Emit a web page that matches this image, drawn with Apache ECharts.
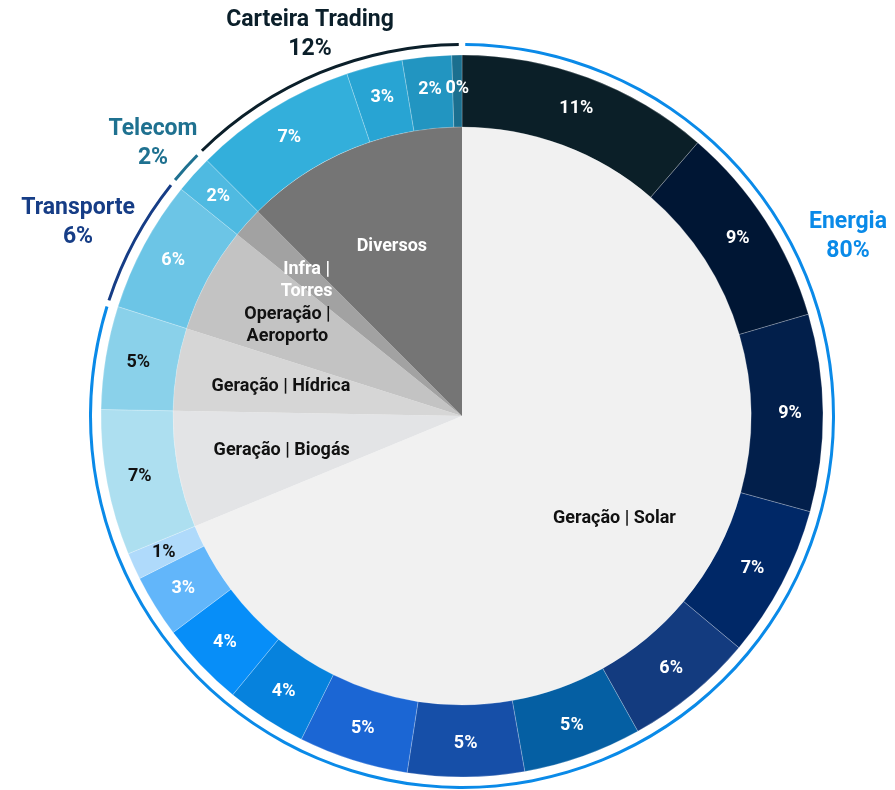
<!DOCTYPE html>
<html>
<head>
<meta charset="utf-8">
<script src="https://cdn.jsdelivr.net/npm/echarts@6/dist/echarts.min.js"></script>
<style>
  html, body { margin: 0; background: #fff; }
  #main { width: 895px; height: 790px; }
</style>
</head>
<body>
<div id="main"></div>
<script>
// grupos (arco de fora)
const groups = ['Energia', 'Transporte', 'Telecom', 'Carteira Trading'];
const groupShares = [80, 6, 2, 12];
// quantas fatias do anel pertencem a cada grupo
const groupSliceCount = [14, 1, 1, 4];

// setores (pizza do meio)
const sectors = ['Geração | Solar', 'Geração | Biogás', 'Geração | Hídrica', 'Operação | Aeroporto', 'Infra | Torres', 'Diversos'];
const sectorValues = [68.6, 6.5, 4.6, 5.9, 1.7, 12.45];

// ativos (anel), sentido horario a partir do topo
const assetValues = [11.3, 9.1, 8.8, 6.8, 5.8, 5.3, 5.2, 4.9, 3.6, 3.8, 2.8, 1.2, 6.5, 4.6, 5.9, 1.7, 7.3, 2.5, 2.2, 0.45];

// ---- estilo ----
const CX = 462, CY = 416;
const FONT = 'Roboto';
const groupColors = ['#0a8ae8', '#163d86', '#1f7190', '#0b1f2a'];
const sectorColors = ['#f1f1f1', '#e3e4e6', '#d6d6d6', '#c3c3c3', '#a2a2a2', '#757575'];
const sectorLabelColors = ['#111', '#111', '#111', '#111', '#fff', '#fff'];
const sectorLabelOffset = { 3: [-13, -4], 4: [-19, -13] };
const assetColors = ['#0b1f28', '#001634', '#021f4b', '#002867', '#133b7f', '#055fa3', '#164fa8', '#1b66d4',
  '#0682dd', '#078ef8', '#62b6fa', '#afdafb', '#addff0', '#8ad1ea', '#6cc5e6', '#4fbae1', '#33afdb', '#28a4d3', '#2295c1', '#1b6f8f'];
const darkLabel = [11, 12, 13];
// posicao dos textos dos grupos
const groupLabelAt = [[848, 237], [78, 223], [153, 144], [310, 35]];

// soma das fatias por grupo -> arco
const groupValues = [];
let k = 0;
groupSliceCount.forEach(n => {
  let s = 0;
  for (let i = 0; i < n; i++) s += assetValues[k++];
  groupValues.push(s);
});

const chart = echarts.init(document.getElementById('main'));

const option = {
  animation: false,
  series: [
    {
      type: 'pie', silent: true,
      center: [CX, CY], radius: [0, 289],
      label: { show: false }, labelLine: { show: false },
      data: sectors.map((name, i) => ({ name, value: sectorValues[i], itemStyle: { color: sectorColors[i] } }))
    },
    {
      // so os textos dos setores
      type: 'pie', silent: true,
      center: [CX, CY], radius: [72, 289],
      avoidLabelOverlap: false,
      labelLayout: { hideOverlap: false },
      itemStyle: { color: 'rgba(0,0,0,0)' },
      labelLine: { show: false },
      data: sectors.map((name, i) => ({
        name, value: sectorValues[i],
        label: {
          show: true, position: 'inside',
          color: sectorLabelColors[i],
          fontFamily: FONT, fontSize: 18, fontWeight: 'bold', lineHeight: 22,
          offset: sectorLabelOffset[i] || [0, 0],
          formatter: sectorLabelOffset[i] ? name.replace(' | ', ' |\n') : name
        }
      }))
    },
    {
      type: 'pie', silent: true,
      center: [CX, CY], radius: [289, 361],
      avoidLabelOverlap: false,
      labelLayout: { hideOverlap: false },
      labelLine: { show: false },
      itemStyle: { borderColor: 'rgba(255,255,255,0.45)', borderWidth: 0.5 },
      data: assetValues.map((v, i) => ({
        value: v,
        itemStyle: { color: assetColors[i] },
        label: {
          show: true, position: 'inside',
          color: darkLabel.includes(i) ? '#111' : '#fff',
          fontFamily: FONT, fontSize: 18, fontWeight: 'bold',
          formatter: p => Math.round(p.value) + '%'
        }
      }))
    },
    {
      type: 'pie', silent: true,
      center: [CX, CY], radius: [370, 373],
      padAngle: 1,
      label: { show: false }, labelLine: { show: false },
      data: groups.map((name, i) => ({ name, value: groupValues[i], itemStyle: { color: groupColors[i] } }))
    }
  ],
  graphic: groups.map((name, i) => ({
    type: 'text',
    x: groupLabelAt[i][0], y: groupLabelAt[i][1],
    style: {
      text: name + '\n' + groupShares[i] + '%',
      fill: groupColors[i],
      font: 'bold 23px ' + FONT,
      lineHeight: 29,
      align: 'center', verticalAlign: 'middle'
    }
  }))
};

chart.setOption(option);
</script>
</body>
</html>
